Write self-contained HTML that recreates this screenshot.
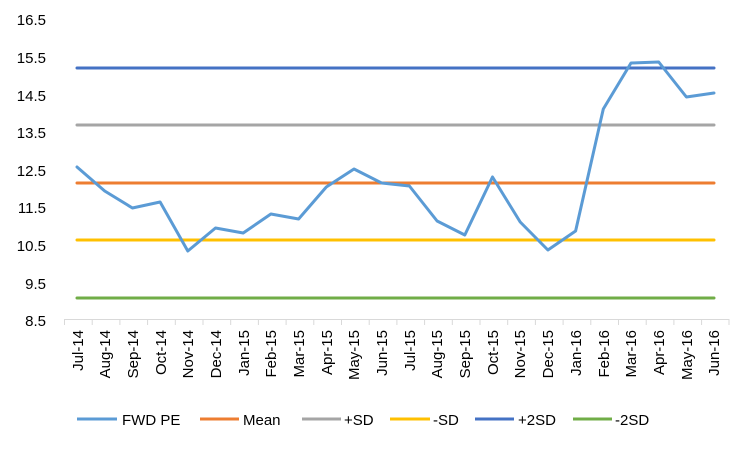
<!DOCTYPE html>
<html><head><meta charset="utf-8"><style>
body{margin:0;background:#fff}
svg{font-family:"Liberation Sans",sans-serif}
</style></head><body>
<svg width="750" height="450" xmlns="http://www.w3.org/2000/svg">
<g font-size="15" fill="#000" text-anchor="end">
<text x="46" y="25">16.5</text><text x="46" y="63">15.5</text><text x="46" y="101">14.5</text>
<text x="46" y="138">13.5</text><text x="46" y="176">12.5</text><text x="46" y="213">11.5</text>
<text x="46" y="251">10.5</text><text x="46" y="289">9.5</text><text x="46" y="326">8.5</text>
</g>
<g stroke-width="3" fill="none" stroke-linecap="round">
<line x1="77" y1="68" x2="714" y2="68" stroke="#4472C4"/>
<line x1="77" y1="125" x2="714" y2="125" stroke="#A5A5A5"/>
<line x1="77" y1="183" x2="714" y2="183" stroke="#ED7D31"/>
<line x1="77" y1="240" x2="714" y2="240" stroke="#FFC000"/>
<line x1="77" y1="298" x2="714" y2="298" stroke="#70AD47"/>
<polyline stroke="#5B9BD5" stroke-linejoin="round" points="77,167 104.7,191 132.4,208 160.1,202 187.8,251 215.5,228 243.2,233 270.9,214 298.6,219 326.3,187 354,169 381.7,183 409.4,186 437.1,221 464.8,235 492.5,177 520.2,222 547.9,250 575.6,231 603.3,109 631,63 658.7,62 686.4,97 714,93"/>
</g>
<g stroke="#D9D9D9" stroke-width="1">
<line x1="64" y1="319.5" x2="729" y2="319.5"/>
<path d="M64.5 319v6M92.2 319v6M119.9 319v6M147.6 319v6M175.3 319v6M203 319v6M230.7 319v6M258.4 319v6M286.1 319v6M313.8 319v6M341.5 319v6M369.2 319v6M396.9 319v6M424.6 319v6M452.3 319v6M480 319v6M507.7 319v6M535.4 319v6M563.1 319v6M590.8 319v6M618.5 319v6M646.2 319v6M673.9 319v6M701.6 319v6M729 319v6"/>
</g>
<g font-size="15" fill="#000" text-anchor="end">
<text transform="translate(83,330) rotate(-90)">Jul-14</text>
<text transform="translate(110,330) rotate(-90)">Aug-14</text>
<text transform="translate(138,330) rotate(-90)">Sep-14</text>
<text transform="translate(166,330) rotate(-90)">Oct-14</text>
<text transform="translate(193,330) rotate(-90)">Nov-14</text>
<text transform="translate(221,330) rotate(-90)">Dec-14</text>
<text transform="translate(249,330) rotate(-90)">Jan-15</text>
<text transform="translate(276,330) rotate(-90)">Feb-15</text>
<text transform="translate(304,330) rotate(-90)">Mar-15</text>
<text transform="translate(332,330) rotate(-90)">Apr-15</text>
<text transform="translate(359,330) rotate(-90)">May-15</text>
<text transform="translate(387,330) rotate(-90)">Jun-15</text>
<text transform="translate(415,330) rotate(-90)">Jul-15</text>
<text transform="translate(442,330) rotate(-90)">Aug-15</text>
<text transform="translate(470,330) rotate(-90)">Sep-15</text>
<text transform="translate(498,330) rotate(-90)">Oct-15</text>
<text transform="translate(525,330) rotate(-90)">Nov-15</text>
<text transform="translate(553,330) rotate(-90)">Dec-15</text>
<text transform="translate(581,330) rotate(-90)">Jan-16</text>
<text transform="translate(609,330) rotate(-90)">Feb-16</text>
<text transform="translate(636,330) rotate(-90)">Mar-16</text>
<text transform="translate(664,330) rotate(-90)">Apr-16</text>
<text transform="translate(692,330) rotate(-90)">May-16</text>
<text transform="translate(719,330) rotate(-90)">Jun-16</text>
</g>
<g stroke-width="3">
<line x1="77" y1="419" x2="117" y2="419" stroke="#5B9BD5"/>
<line x1="200" y1="419" x2="239" y2="419" stroke="#ED7D31"/>
<line x1="302" y1="419" x2="341" y2="419" stroke="#A5A5A5"/>
<line x1="390" y1="419" x2="430" y2="419" stroke="#FFC000"/>
<line x1="475" y1="419" x2="514" y2="419" stroke="#4472C4"/>
<line x1="573" y1="419" x2="612" y2="419" stroke="#70AD47"/>
</g>
<g font-size="15" fill="#000">
<text x="122" y="425">FWD PE</text><text x="243" y="425">Mean</text>
<text x="344" y="425">+SD</text><text x="433" y="425">-SD</text>
<text x="518" y="425">+2SD</text><text x="615" y="425">-2SD</text>
</g>
</svg>
</body></html>
